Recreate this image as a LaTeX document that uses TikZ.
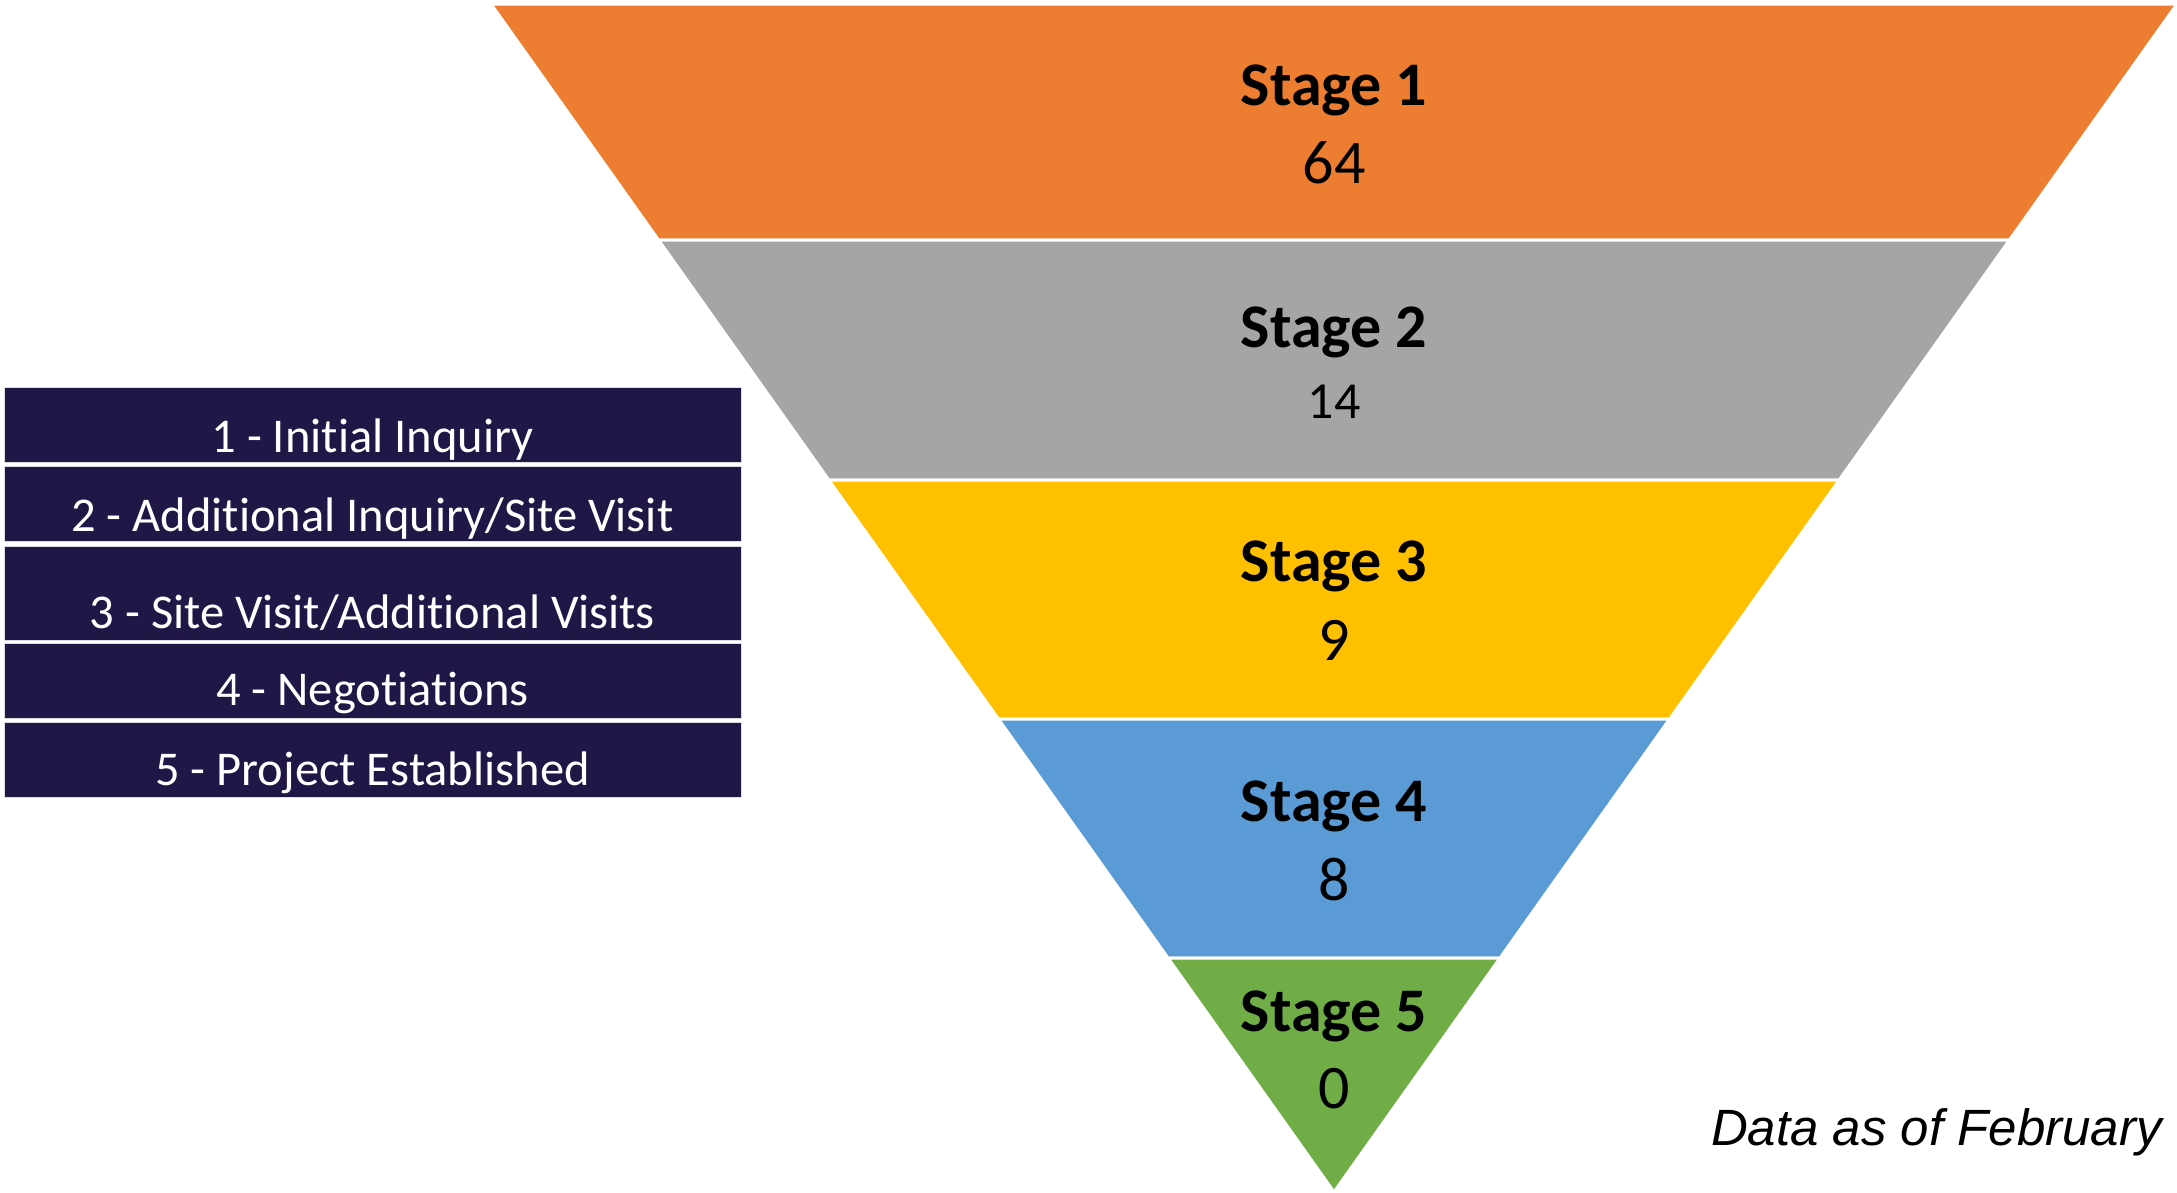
\documentclass[tikz,border=0pt]{standalone}
\usepackage{fontspec}
\setmainfont{Carlito}[Ligatures={NoCommon}]
\newfontfamily\legfont{Carlito}[Ligatures={NoCommon}]
\newfontfamily\notefont{Liberation Sans}
\definecolor{cOrange}{HTML}{ED7D31}
\definecolor{cGray}{HTML}{A5A5A5}
\definecolor{cYellow}{HTML}{FFC000}
\definecolor{cBlue}{HTML}{5B9BD5}
\definecolor{cGreen}{HTML}{70AD47}
\definecolor{cNavy}{HTML}{201747}
\tikzset{
  band/.style={draw=white, line width=3pt, line join=miter},
  stagetitle/.style={anchor=base, inner sep=0pt, font=\fontsize{62}{70}\selectfont\bfseries},
  stagenum/.style={anchor=base, inner sep=0pt, font=\fontsize{62}{70}\selectfont},
  legbox/.style={fill=cNavy, draw=white!85!cNavy, line width=0.8pt, minimum width=737pt, inner sep=0pt, anchor=north west},
  legtext/.style={anchor=base, inner sep=0pt, text=white, font=\legfont\fontsize{48.5}{56}\selectfont},
}
\begin{document}
\begin{tikzpicture}[x=1pt, y=-1pt]
\useasboundingbox (0,0) rectangle (2177,1192);
% funnel bands
\path[band, fill=cOrange] (491,4) -- (2177,4) -- (2009.5,240) -- (658.5,240) -- cycle;
\path[band, fill=cGray] (658.5,240) -- (2009.5,240) -- (1839.2,480) -- (828.8,480) -- cycle;
\path[band, fill=cYellow] (828.8,480) -- (1839.2,480) -- (1669.6,719) -- (998.4,719) -- cycle;
\path[band, fill=cBlue] (998.4,719) -- (1669.6,719) -- (1500,958) -- (1168,958) -- cycle;
\path[band, fill=cGreen] (1168,958) -- (1500,958) -- (1334,1192) -- cycle;
% stage labels
\node[stagetitle] (s1) at (1334,105) {Stage 1};
\node[stagenum] (n1) at (1334,183) {64};
\node[stagetitle] (s2) at (1334,347) {Stage 2};
\node[stagenum, font=\fontsize{52}{60}\selectfont] (n2) at (1334,418) {14};
\node[stagetitle] (s3) at (1334,581) {Stage 3};
\node[stagenum] (n3) at (1334,660) {9};
\node[stagetitle] (s4) at (1334,821) {Stage 4};
\node[stagenum] (n4) at (1334,900) {8};
\node[stagetitle] (s5) at (1334,1031) {Stage 5};
\node[stagenum] (n5) at (1334,1108) {0};
% legend
\node[legbox, minimum height=75pt] (b1) at (4,387) {};
\node[legbox, minimum height=75pt] (b2) at (4,466) {};
\node[legbox, minimum height=94pt] (b3) at (4,546) {};
\node[legbox, minimum height=75pt] (b4) at (4,643) {};
\node[legbox, minimum height=75pt] (b5) at (4,722) {};
\node[legtext] (t1) at (372.5,452) {1 - Initial Inquiry};
\node[legtext] (t2) at (372.5,531) {2 - Additional Inquiry/Site Visit};
\node[legtext] (t3) at (372.5,628) {3 - Site Visit/Additional Visits};
\node[legtext] (t4) at (372.5,705) {4 - Negotiations};
\node[legtext] (t5) at (372.5,785) {5 - Project Established};
% note
\node[anchor=base east, inner sep=0pt, font=\notefont\itshape\fontsize{51}{60}\selectfont] (note) at (2162,1145) {Data as of February};
\end{tikzpicture}
\end{document}
